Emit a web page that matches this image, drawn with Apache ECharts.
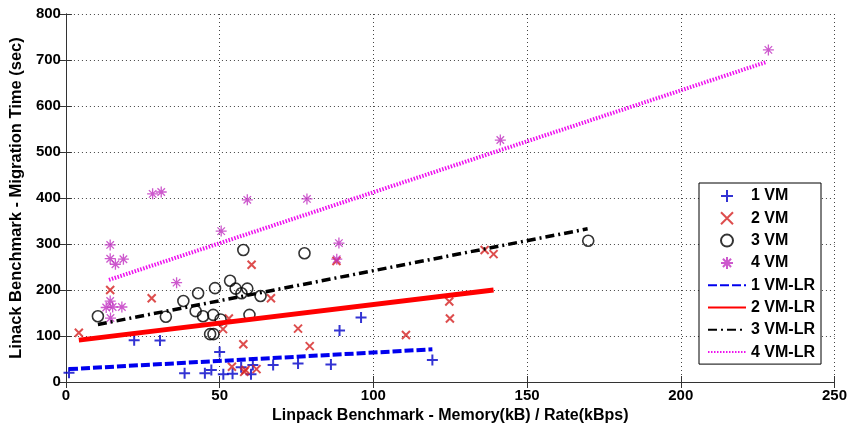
<!DOCTYPE html>
<html>
<head>
<meta charset="utf-8">
<script src="https://cdn.jsdelivr.net/npm/echarts@6/dist/echarts.min.js"></script>
<style>
  html, body { margin: 0; padding: 0; background: #fff; }
  #chart { width: 850px; height: 432px; }
</style>
</head>
<body>
<div id="chart"></div>
<script>
// Measured migration times per memory/rate ratio, one array per VM count
const vm1 = [[1,20],[22.2,91],[30.6,90],[38.6,19],[45.2,19],[47.3,26],[50,65],[51.2,17],[54.2,18],
  [57,32],[60.2,17],[60.8,37],[67.4,37],[75.5,40],[86.2,38],[89,112],[96,140],[119.2,48]];
const vm2 = [[4.2,107],[14.4,200],[27.9,182],[51.1,115],[53,138],[54,33],[57.7,82],[58,22],[58.4,26],
  [60.4,255],[62,28],[66.7,182],[75.5,116],[79.3,78],[88,263],[110.6,102],[124.7,175],[124.9,138],
  [136.2,287],[139.1,278]];
const vm3 = [[10.4,143],[32.5,142],[38.2,176],[43,193],[42.2,154],[44.6,143],[48.5,204],[47.9,146],
  [46.9,104],[48,104],[50.3,136],[53.4,220],[55.2,203],[57.7,287],[59,203],[57.1,193],[59.7,146],
  [63.3,187],[77.6,280],[169.9,307]];
const vm4 = [[14.4,298],[14.4,268],[16.1,256],[18.7,267],[14.4,176],[13.1,162],[15.2,163],[18.2,163],
  [14.5,139],[28.2,409],[31,413],[36,216],[50.5,328],[59,396],[78.4,398],[88.8,302],[88.1,267],
  [141.3,526],[228.5,722]];

// Linear-regression lines (end points of each fitted segment)
const vm1Fit = [[1,28],[119.2,71]];
const vm2Fit = [[4.2,91],[139.1,200]];
const vm3Fit = [[10.4,125],[169.7,333]];
const vm4Fit = [[14,222],[228,696]];

const xTicks = { min: 0, max: 250, interval: 50 };
const yTicks = { min: 0, max: 800, interval: 100 };

const FONT = '"Liberation Sans", Arial, sans-serif';
const PLUS = 'path://M5,0L5,10M0,5L10,5';
const CROSS = 'path://M0,0L10,10M0,10L10,0';
const STAR = 'path://M5,0L5,10M0,5L10,5M1.6,1.6L8.4,8.4M1.6,8.4L8.4,1.6';
const CLEAR = 'rgba(0,0,0,0)';

const chart = echarts.init(document.getElementById('chart'), null, { renderer: 'canvas' });

function markerSeries(name, data, symbol, size, color, width) {
  return {
    name, type: 'scatter', data, symbol, symbolSize: size,
    itemStyle: { color: CLEAR, borderColor: color, borderWidth: width },
    emphasis: { disabled: true }
  };
}
function fitSeries(name, data, color, width, dash) {
  return {
    name, type: 'line', data, symbol: 'none', showSymbol: false,
    lineStyle: { color, width, type: dash, cap: 'butt' },
    // keeps the legend swatch a bare line sample
    itemStyle: { color: CLEAR, borderColor: CLEAR, borderWidth: 0 },
    emphasis: { disabled: true }
  };
}

const axisLineStyle = { lineStyle: { color: '#333', width: 1 } };
const tickStyle = { inside: true, length: 6, lineStyle: { color: '#333', width: 1 } };
const gridStyle = { show: true, lineStyle: { color: '#444', width: 1, type: [1, 3] } };

chart.setOption({
  animation: false,
  backgroundColor: '#fff',
  grid: { left: 63, right: 15, top: 14, bottom: 50 },
  xAxis: [{
    type: 'value', position: 'bottom', ...xTicks,
    name: 'Linpack Benchmark - Memory(kB) / Rate(kBps)',
    nameLocation: 'middle', nameGap: 22,
    nameTextStyle: { fontFamily: FONT, fontWeight: 'bold', fontSize: 16, color: '#000' },
    axisLine: axisLineStyle, axisTick: tickStyle, splitLine: gridStyle,
    axisLabel: { fontFamily: FONT, fontWeight: 'bold', fontSize: 15, color: '#000', margin: 6 }
  }, {
    type: 'value', position: 'top', ...xTicks,
    axisLine: axisLineStyle, axisTick: tickStyle, splitLine: { show: false },
    axisLabel: { show: false }
  }],
  yAxis: [{
    type: 'value', position: 'left', ...yTicks,
    name: 'Linack Benchmark - Migration Time (sec)',
    nameLocation: 'middle', nameGap: 35,
    nameTextStyle: { fontFamily: FONT, fontWeight: 'bold', fontSize: 16.5, color: '#000' },
    axisLine: axisLineStyle, axisTick: tickStyle, splitLine: gridStyle,
    axisLabel: { fontFamily: FONT, fontWeight: 'bold', fontSize: 15, color: '#000', margin: 5 }
  }, {
    type: 'value', position: 'right', ...yTicks,
    axisLine: axisLineStyle, axisTick: tickStyle, splitLine: { show: false },
    axisLabel: { show: false }
  }],
  legend: {
    orient: 'vertical', left: 699, top: 183,
    itemWidth: 38, itemHeight: 12, itemGap: 6.3,
    padding: [5, 6, 4, 8],
    backgroundColor: '#fff', borderColor: '#000', borderWidth: 1,
    symbolKeepAspect: true,
    textStyle: { fontFamily: FONT, fontWeight: 'bold', fontSize: 16, color: '#000' },
    selectedMode: false
  },
  series: [
    markerSeries('1 VM', vm1, PLUS, 11, '#0000c8', 2),
    markerSeries('2 VM', vm2, CROSS, 8, '#d42020', 2),
    markerSeries('3 VM', vm3, 'circle', 11, '#000', 1.6),
    markerSeries('4 VM', vm4, STAR, 11, '#c030c0', 1.3),
    fitSeries('1 VM-LR', vm1Fit, '#0000ee', 4, [9, 3]),
    fitSeries('2 VM-LR', vm2Fit, '#ff0000', 5, 'solid'),
    fitSeries('3 VM-LR', vm3Fit, '#000', 3.5, [9, 4, 2, 4]),
    fitSeries('4 VM-LR', vm4Fit, '#ee11ee', 4, [1.5, 1.5])
  ]
});
</script>
</body>
</html>
